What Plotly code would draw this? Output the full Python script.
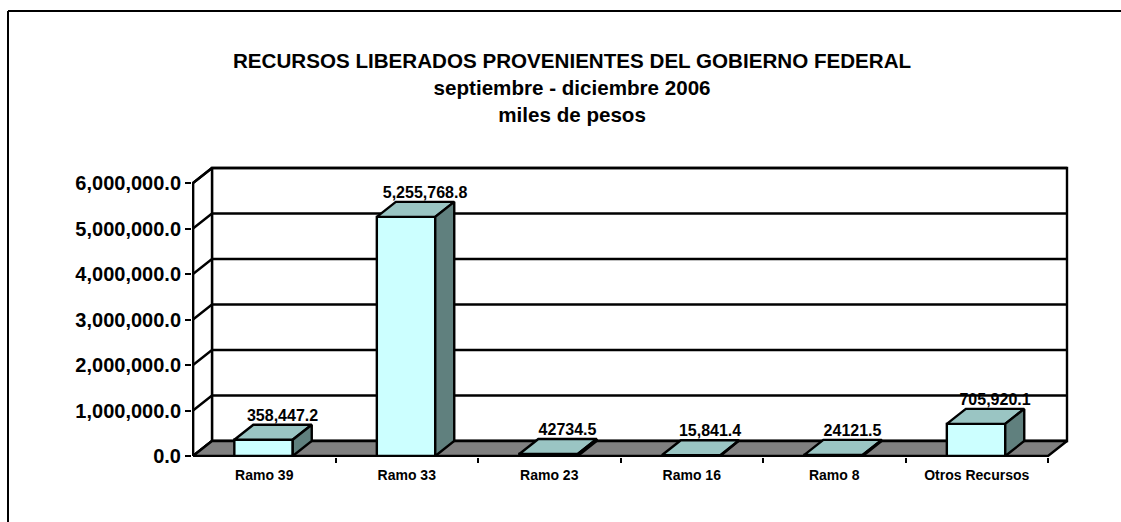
import plotly.graph_objects as go

# ---- data ----
categories = ["Ramo 39", "Ramo 33", "Ramo 23", "Ramo 16", "Ramo 8", "Otros Recursos"]
values = [358447.2, 5255768.8, 42734.5, 15841.4, 24121.5, 705920.1]
value_labels = ["358,447.2", "5,255,768.8", "42734.5", "15,841.4", "24121.5", "705,920.1"]
y_ticks = [0, 1000000, 2000000, 3000000, 4000000, 5000000, 6000000]
title_lines = ["RECURSOS LIBERADOS PROVENIENTES DEL GOBIERNO FEDERAL",
               "septiembre - diciembre 2006", "miles de pesos"]

# ---- pseudo-3D geometry (in axis units) ----
PX_X = 142.5            # px per category
PX_Y = 45.5 / 1e6       # px per value unit
DX = 19 / PX_X          # depth offset in x units
DY = 15 / PX_Y          # depth offset in value units
BAR_L = 0.29            # bar left edge within category
BAR_W = 0.41            # bar width
N = len(categories)
YMAX = y_ticks[-1]

FONT = "Liberation Sans, Arial, sans-serif"
FRONT = "#CCFFFF"
TOP = "#9AC5C3"
SIDE = "#60807E"
FLOOR = "#808080"
LW = 2.4

fig = go.Figure()

def poly(xs, ys, fill, width=LW):
    fig.add_trace(go.Scatter(x=xs, y=ys, mode="lines", fill="toself", fillcolor=fill,
                             line=dict(color="black", width=width), hoverinfo="skip"))

def lines(xs, ys, width=LW):
    fig.add_trace(go.Scatter(x=xs, y=ys, mode="lines",
                             line=dict(color="black", width=width), hoverinfo="skip"))

# back wall
poly([DX, N + DX, N + DX, DX, DX], [DY, DY, YMAX + DY, YMAX + DY, DY], "white")
# left wall
poly([0, DX, DX, 0, 0], [0, DY, YMAX + DY, YMAX, 0], "white")

# gridlines on back wall + left wall diagonals
gx, gy = [], []
for t in y_ticks:
    gx += [0, DX, N + DX, None]
    gy += [t, t + DY, t + DY, None]
lines(gx, gy)

# floor
poly([0, N, N + DX, DX, 0], [0, 0, DY, DY, 0], FLOOR)

# front axis line
lines([0, 0], [0, YMAX], width=2.4)

# bars
fx, fy, tx, ty, sx, sy = [], [], [], [], [], []
for i, v in enumerate(values):
    x0 = i + BAR_L
    x1 = x0 + BAR_W
    fx += [x0, x1, x1, x0, x0, None]
    fy += [0, 0, v, v, 0, None]
    tx += [x0, x1, x1 + DX, x0 + DX, x0, None]
    ty += [v, v, v + DY, v + DY, v, None]
    sx += [x1, x1 + DX, x1 + DX, x1, x1, None]
    sy += [0, DY, v + DY, v, 0, None]
poly(fx, fy, FRONT)
poly(tx, ty, TOP)
poly(sx, sy, SIDE)

# value labels
fig.add_trace(go.Scatter(
    x=[i + BAR_L + BAR_W / 2 + DX for i in range(N)],
    y=[v + DY for v in values],
    mode="text", text=value_labels, textposition="top center",
    textfont=dict(family=FONT, size=16, color="black", weight="bold"),
    cliponaxis=False, hoverinfo="skip"))

xmin = -1 / PX_X
xmax = (1075 - 193) / PX_X
ymin = -1 / PX_Y
ymax = (456 - 150) / PX_Y

fig.update_layout(
    width=1121, height=522,
    margin=dict(l=192, r=46, t=150, b=65),
    paper_bgcolor="white", plot_bgcolor="white",
    showlegend=False,
    xaxis=dict(range=[xmin, xmax], showgrid=False, zeroline=False, showline=False,
               tickmode="array", tickvals=[i + 0.5 for i in range(N)], ticktext=categories,
               ticks="outside", ticklen=5, tickcolor="rgba(0,0,0,0)",
               tickfont=dict(family=FONT, size=14, color="black", weight="bold"),
               minor=dict(tickmode="array", tickvals=list(range(1, N + 1)), ticks="outside",
                          ticklen=5, tickwidth=2, tickcolor="black", showgrid=False),
               fixedrange=True),
    yaxis=dict(range=[ymin, ymax], showgrid=False, zeroline=False, showline=False,
               tickmode="array", tickvals=y_ticks, tickformat=",.1f",
               ticks="outside", ticklen=6, tickwidth=2, tickcolor="black",
               tickfont=dict(family=FONT, size=20, color="black", weight="bold"),
               fixedrange=True),
    annotations=[dict(xref="paper", yref="paper",
                      x=(572 - 192) / 883, y=(457 - 88) / 307,
                      xanchor="center", yanchor="middle", showarrow=False,
                      text="<br>".join(title_lines), align="center",
                      font=dict(family=FONT, size=20.6, color="black", weight="bold"))],
    shapes=[dict(type="line", xref="paper", yref="paper",
                 x0=(8 - 192) / 883, x1=(8 - 192) / 883,
                 y0=(457 - 11) / 307, y1=(457 - 540) / 307,
                 line=dict(color="black", width=2)),
            dict(type="line", xref="paper", yref="paper",
                 x0=(8 - 192) / 883, x1=(1140 - 192) / 883,
                 y0=(457 - 11) / 307, y1=(457 - 11) / 307,
                 line=dict(color="black", width=2))],
)

fig.write_html("out.html", config={"displayModeBar": False},
               post_script="document.body.style.margin='0';")
